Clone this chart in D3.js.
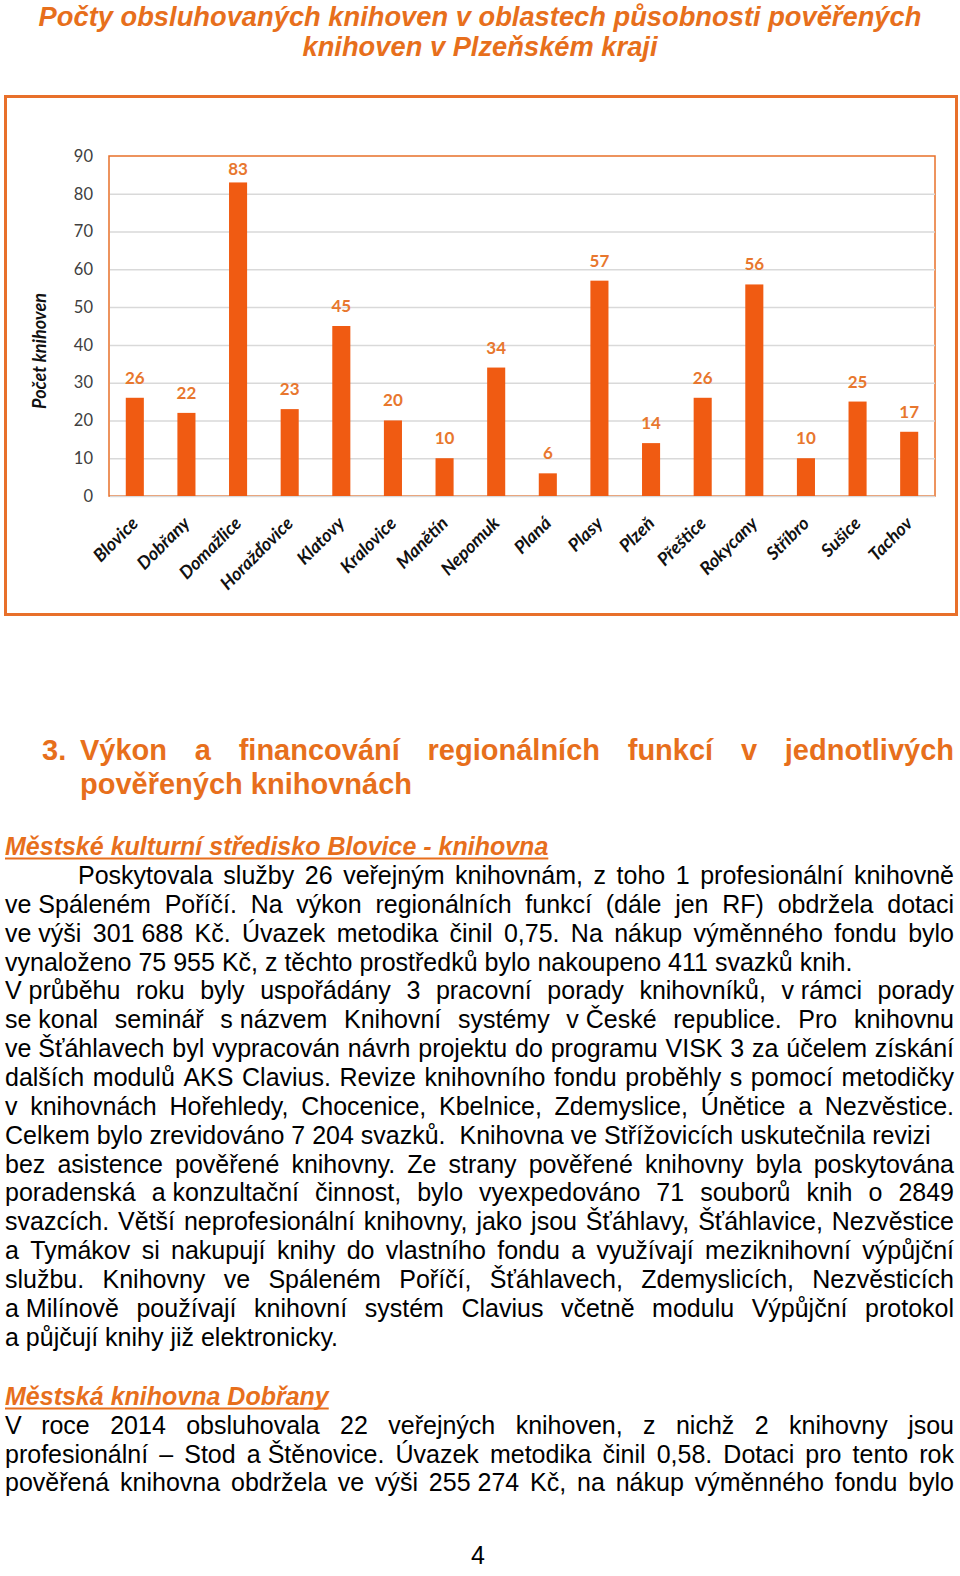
<!DOCTYPE html>
<html><head><meta charset="utf-8">
<script src="https://cdn.jsdelivr.net/npm/d3@7"></script>
<style>body{margin:0;background:#fff}svg{display:block}</style>
</head><body>
<script>
// ---------- DATA ----------
const categories = ["Blovice","Dobřany","Domažlice","Horažďovice","Klatovy","Kralovice","Manětín","Nepomuk","Planá","Plasy","Plzeň","Přeštice","Rokycany","Stříbro","Sušice","Tachov"];
const values = [26,22,83,23,45,20,10,34,6,57,14,26,56,10,25,17];
const yTicks = [0,10,20,30,40,50,60,70,80,90];
const chartTitle = ["Počty obsluhovaných knihoven v oblastech působnosti pověřených","knihoven v Plzeňském kraji"];
const yAxisTitle = "Počet knihoven";
const headingNum = "3.";
const headingLines = ["Výkon a financování regionálních funkcí v jednotlivých","pověřených knihovnách"];
const sub1 = "Městské kulturní středisko Blovice - knihovna";
const para1 = [
 "Poskytovala služby 26 veřejným knihovnám, z toho 1 profesionální knihovně",
 "ve\u00a0Spáleném Poříčí. Na výkon regionálních funkcí (dále jen RF) obdržela dotaci",
 "ve\u00a0výši 301\u00a0688 Kč. Úvazek metodika činil 0,75. Na nákup výměnného fondu bylo",
 "vynaloženo 75 955 Kč, z těchto prostředků bylo nakoupeno 411 svazků knih.",
 "V\u00a0průběhu roku byly uspořádány 3 pracovní porady knihovníků, v\u00a0rámci porady",
 "se\u00a0konal seminář s\u00a0názvem Knihovní systémy v\u00a0České republice. Pro knihovnu",
 "ve\u00a0Šťáhlavech byl vypracován návrh projektu do programu VISK 3 za účelem získání",
 "dalších modulů AKS Clavius. Revize knihovního fondu proběhly s pomocí metodičky",
 "v knihovnách Hořehledy, Chocenice, Kbelnice, Zdemyslice, Únětice a Nezvěstice.",
 "Celkem bylo zrevidováno 7\u00a0204 svazků.\u00a0 Knihovna ve Střížovicích uskutečnila revizi",
 "bez asistence pověřené knihovny. Ze strany pověřené knihovny byla poskytována",
 "poradenská a\u00a0konzultační činnost, bylo vyexpedováno 71 souborů knih o 2849",
 "svazcích. Větší neprofesionální knihovny, jako jsou Šťáhlavy, Šťáhlavice, Nezvěstice",
 "a Tymákov si nakupují knihy do vlastního fondu a využívají meziknihovní výpůjční",
 "službu. Knihovny ve Spáleném Poříčí, Šťáhlavech, Zdemyslicích, Nezvěsticích",
 "a\u00a0Milínově používají knihovní systém Clavius včetně modulu Výpůjční protokol",
 "a půjčují knihy již elektronicky."
];
const para1Justify = [1,1,1,0,1,1,1,1,1,0,1,1,1,1,1,1,0];
const sub2 = "Městská knihovna Dobřany";
const para2 = [
 "V roce 2014 obsluhovala 22 veřejných knihoven, z nichž 2 knihovny jsou",
 "profesionální – Stod a\u00a0Štěnovice. Úvazek metodika činil 0,58. Dotaci pro tento rok",
 "pověřená knihovna obdržela ve výši 255\u00a0274 Kč, na nákup výměnného fondu bylo"
];
const para2Justify = [1,1,1];
const pageNumber = "4";

// ---------- STYLE ----------
const ORANGE = "#e76f1c";
const BAR = "#f05b12";
const LABEL = "#e8772e";
const FRAME = "#e8702a";
const BODY_FONT = "'Liberation Sans', Arial, sans-serif";
const CHART_FONT = "Lato, 'Open Sans', sans-serif";
const RIGHT = 954;

const svg = d3.select("body").append("svg").attr("width",960).attr("height",1576);

// ---------- CHART TITLE ----------
chartTitle.forEach((t,i)=>{
  svg.append("text").attr("x",480).attr("y",26+i*30).attr("text-anchor","middle")
    .style("font-family",BODY_FONT).style("font-size","27.3px").style("font-weight","bold").style("font-style","italic")
    .attr("fill",ORANGE).text(t);
});

// ---------- CHART ----------
svg.append("rect").attr("x",5.5).attr("y",96.5).attr("width",951).attr("height",518)
  .attr("fill","none").attr("stroke",FRAME).attr("stroke-width",3);

const plot = {l:109,t:156,r:935,b:496};
const x = d3.scaleBand().domain(categories).range([plot.l,plot.r]).paddingInner(0.65).paddingOuter(0.325);
const y = d3.scaleLinear().domain([0,90]).range([plot.b,plot.t]);

svg.append("rect").attr("x",plot.l).attr("y",plot.t).attr("width",plot.r-plot.l).attr("height",plot.b-plot.t)
  .attr("fill","none").attr("stroke",FRAME).attr("stroke-width",1.5);

const yAxis = svg.append("g").attr("transform",`translate(${plot.l},0)`)
  .call(d3.axisLeft(y).tickValues(yTicks).tickSize(-(plot.r-plot.l)).tickPadding(16));
yAxis.select(".domain").remove();
yAxis.selectAll(".tick line").attr("stroke",d=>d===90?"none":"#d9d9d9").attr("stroke-width",1.5).attr("x1",1);
yAxis.selectAll(".tick text").style("font-family",CHART_FONT).style("font-size","16.5px").attr("fill","#404040");

svg.append("g").selectAll("rect").data(values).join("rect")
  .attr("x",(d,i)=>x(categories[i])).attr("y",d=>y(d))
  .attr("width",x.bandwidth()).attr("height",d=>plot.b-y(d)).attr("fill",BAR);

svg.append("g").selectAll("text").data(values).join("text")
  .attr("x",(d,i)=>x(categories[i])+x.bandwidth()/2)
  .attr("y",d=>Math.max(y(d)-20, plot.t+13))
  .attr("dy","0.35em").attr("text-anchor","middle")
  .style("font-family",CHART_FONT).style("font-size","17px").style("font-weight","bold")
  .attr("fill",LABEL).text(d=>d);

svg.append("g").selectAll("text").data(categories).join("text")
  .attr("transform",c=>`translate(${x(c)+x.bandwidth()/2},${520}) rotate(-45)`)
  .attr("dy","0.35em").attr("text-anchor","end")
  .style("font-family",CHART_FONT).style("font-size","18px").style("font-weight","bold").style("font-style","italic")
  .attr("fill","#111").text(c=>c);

svg.append("text").attr("transform","translate(40,351) rotate(-90)")
  .attr("dy","0.35em").attr("text-anchor","middle")
  .style("font-family",CHART_FONT).style("font-size","18px").style("font-weight","bold").style("font-style","italic")
  .attr("fill","#111").text(yAxisTitle);

// ---------- TEXT HELPERS ----------
function textLine(str, x0, x1, yb, justify, opt={}) {
  const t = svg.append("text").attr("y",yb)
    .style("font-family",BODY_FONT).style("font-size",(opt.size||25)+"px")
    .style("font-weight",opt.weight||"normal").style("font-style",opt.style||"normal")
    .attr("fill",opt.fill||"#000");
  const words = str.split(" ").filter(w=>w.length);
  const spans = words.map(w=>t.append("tspan").text(w));
  const widths = spans.map(s=>s.node().getComputedTextLength());
  const probe = t.append("tspan").text("a\u00a0a");
  const probe2 = t.append("tspan").text("aa");
  const spaceW = probe.node().getComputedTextLength()-probe2.node().getComputedTextLength();
  probe.remove(); probe2.remove();
  const total = d3.sum(widths);
  let gap = spaceW;
  if (justify && words.length>1) gap = (x1-x0-total)/(words.length-1);
  let cx = x0;
  spans.forEach((s,i)=>{ s.attr("x",cx); cx += widths[i]+gap; });
  return cx - gap;
}
function heading(str, x0, yb) {
  const end = textLine(str, x0, RIGHT, yb, false, {weight:"bold", style:"italic", fill:ORANGE});
  svg.append("line").attr("x1",x0).attr("x2",end).attr("y1",yb+3.5).attr("y2",yb+3.5)
    .attr("stroke",ORANGE).attr("stroke-width",2);
}

// ---------- SECTION HEADING ----------
svg.append("text").attr("x",42).attr("y",760).style("font-family",BODY_FONT).style("font-size","29px")
  .style("font-weight","bold").attr("fill",ORANGE).text(headingNum);
textLine(headingLines[0], 80, RIGHT, 760, true, {size:29, weight:"bold", fill:ORANGE});
textLine(headingLines[1], 80, RIGHT, 794, false, {size:29, weight:"bold", fill:ORANGE});

// ---------- PARAGRAPHS ----------
heading(sub1, 5, 855);
para1.forEach((l,i)=> textLine(l, i===0?78:5, RIGHT, 884+i*28.85, !!para1Justify[i]));
heading(sub2, 5, 1405);
para2.forEach((l,i)=> textLine(l, 5, RIGHT, 1434+i*28.6, !!para2Justify[i]));

svg.append("text").attr("x",478).attr("y",1564).attr("text-anchor","middle")
  .style("font-family",BODY_FONT).style("font-size","25px").text(pageNumber);
</script>
</body></html>
